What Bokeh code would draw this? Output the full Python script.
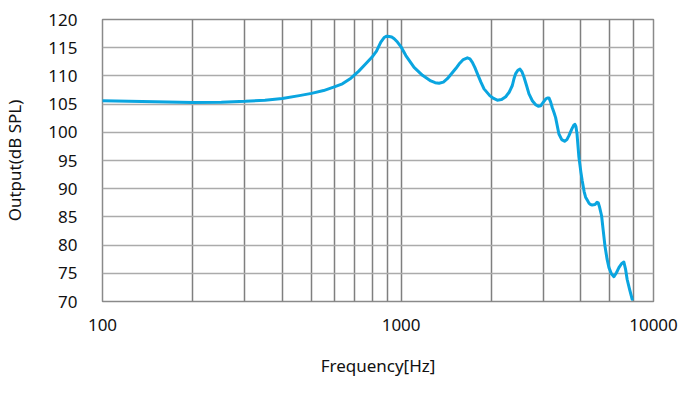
from bokeh.plotting import figure
from bokeh.models import FixedTicker, Range1d
from bokeh.embed import file_html
from bokeh.resources import INLINE

# Frequency response (Hz, dB SPL)
freq_hz = [100, 150, 200, 250, 301, 350, 400, 456, 501, 550, 594, 636, 679, 720,
           760, 798, 827, 855, 877, 895, 912, 930, 948, 972, 998, 1037, 1105,
           1179, 1257, 1300, 1340, 1385, 1428, 1524, 1563, 1615, 1666, 1700,
           1732, 1765, 1800, 1850, 1895, 1981, 2040, 2099, 2170, 2240, 2300,
           2357, 2390, 2418, 2460, 2500, 2540, 2578, 2630, 2680, 2750, 2822,
           2880, 2933, 2990, 3048, 3090, 3126, 3166, 3206, 3250, 3291, 3376,
           3450, 3527, 3590, 3647, 3730, 3790, 3820, 3850, 3880, 3938, 4000,
           4040, 4100, 4147, 4199, 4260, 4310, 4364, 4460, 4530, 4570, 4620,
           4691, 4750, 4813, 4890, 4965, 5060, 5159, 5260, 5361, 5470, 5570,
           5640, 5714, 5830, 5939]
output_db = [105.6, 105.4, 105.3, 105.35, 105.5, 105.7, 106.0, 106.5, 106.9,
             107.4, 108.0, 108.6, 109.6, 110.8, 112.1, 113.3, 114.4, 116.0,
             116.8, 117.05, 117.0, 116.9, 116.6, 116.0, 115.2, 113.6, 111.5,
             110.1, 109.1, 108.8, 108.7, 108.9, 109.5, 111.3, 112.1, 112.9,
             113.2, 113.0, 112.4, 111.5, 110.4, 108.9, 107.7, 106.5, 106.0,
             105.7, 105.8, 106.3, 107.1, 108.3, 109.6, 110.4, 111.0, 111.2,
             110.7, 109.8, 108.3, 106.8, 105.6, 104.9, 104.6, 104.7, 105.3,
             105.9, 106.1, 106.1, 105.4, 104.4, 103.5, 102.6, 99.7, 98.7, 98.4,
             98.7, 99.4, 100.6, 101.3, 101.4, 101.0, 99.8, 95.6, 92.9, 91.4,
             89.5, 88.5, 88.0, 87.4, 87.2, 87.1, 87.2, 87.6, 87.5, 86.7, 85.2,
             82.6, 79.9, 77.6, 76.0, 74.9, 74.4, 75.1, 76.0, 76.7, 77.0, 75.8,
             73.9, 72.0, 70.4]

x_tick_values = [100, 1000, 7000]
x_tick_labels = {100: "100", 1000: "1000", 7000: "10000"}
x_grid_values = [100, 200, 300, 400, 500, 600, 700, 800, 900, 1000,
                 2000, 3000, 4000, 5000, 6000, 7000]
y_tick_values = [70, 75, 80, 85, 90, 95, 100, 105, 110, 115, 120]

FONT = "Noto Sans"

p = figure(frame_width=551, frame_height=282, x_axis_type="log",
           x_range=Range1d(100, 7000), y_range=Range1d(70, 120),
           output_backend="svg", toolbar_location=None,
           min_border_left=97, min_border_right=35,
           min_border_top=19, min_border_bottom=76)

p.line(freq_hz, output_db, line_color="#0AA5E0", line_width=3,
       line_join="round", line_cap="round")

p.outline_line_color = "#8a8a8a"
p.outline_line_width = 1.5

p.xaxis.ticker = FixedTicker(ticks=x_tick_values)
p.xaxis.major_label_overrides = x_tick_labels
p.yaxis.ticker = FixedTicker(ticks=y_tick_values)

p.xgrid.ticker = FixedTicker(ticks=x_grid_values)
p.xgrid.grid_line_color = "#7f7f7f"
p.xgrid.grid_line_width = 1.5
p.ygrid.grid_line_color = "#ababab"
p.ygrid.grid_line_width = 1.5

for ax in (p.xaxis[0], p.yaxis[0]):
    ax.axis_line_color = None
    ax.major_tick_line_color = None
    ax.minor_tick_line_color = None
    ax.major_tick_out = 0
    ax.major_tick_in = 0
    ax.minor_tick_out = 0
    ax.minor_tick_in = 0
    ax.major_label_text_font = FONT
    ax.major_label_text_font_size = "17px"
    ax.major_label_text_color = "#111111"
    ax.axis_label_text_font = FONT
    ax.axis_label_text_font_size = "17px"
    ax.axis_label_text_font_style = "normal"
    ax.axis_label_text_color = "#111111"

p.xaxis.axis_label = "Frequency[Hz]"
p.yaxis.axis_label = "Output(dB SPL)"
p.xaxis.major_label_standoff = 17
p.xaxis.axis_label_standoff = 20
p.yaxis.major_label_standoff = 25
p.yaxis.axis_label_standoff = 19

open("out.html", "w").write(file_html(p, INLINE))
